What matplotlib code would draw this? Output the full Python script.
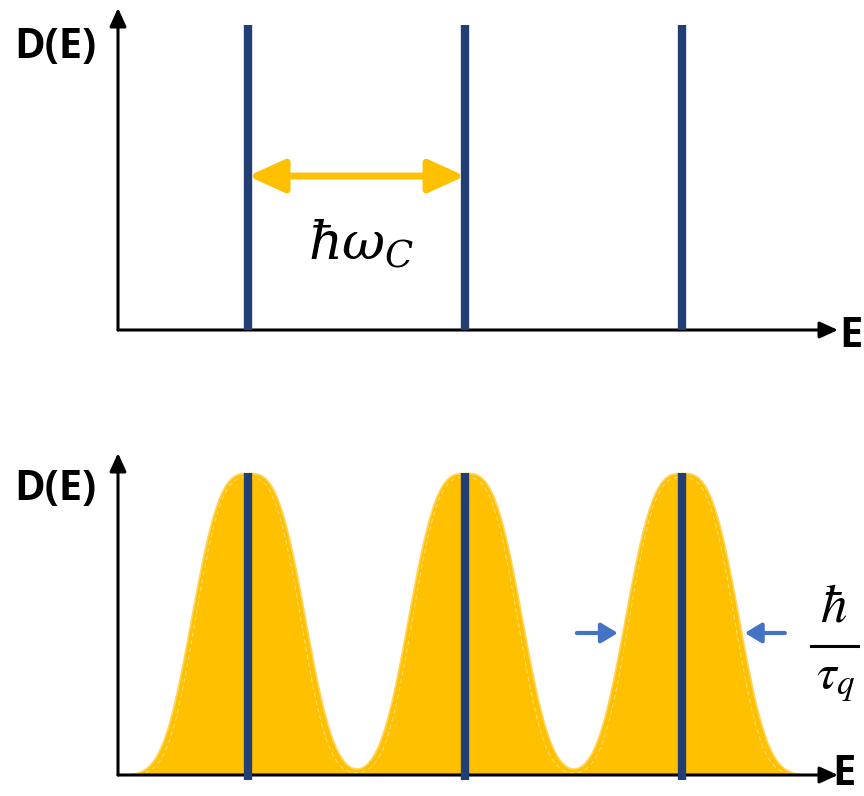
import numpy as np
import matplotlib.pyplot as plt
from matplotlib.lines import Line2D

# Landau levels (in units of hbar*omega_c) and the broadened line shape
levels = [1.0, 2.0, 3.0]
level_top = 0.947          # height of the sharp levels, upper panel
peak_height = 0.938        # height of the broadened peaks, lower panel
peak_halfwidth = 0.302     # broadening width, same units as E
peak_order = 3.0           # exponent of the line shape
fill_range = [0.456, 3.544]

spacing_y = 0.478          # height of the hbar*omega_c double arrow
width_y = 0.441            # height of the hbar/tau_q markers
width_left = [2.516, 2.705]
width_right = [3.475, 3.290]

E_MIN, E_MAX = 0.40, 3.72
NAVY = "#213f75"
GOLD = "#ffc000"
MARK_BLUE = "#4472c4"

plt.rcParams["mathtext.fontset"] = "stix"
LABEL_FONT = dict(family=["Open Sans", "DejaVu Sans"], weight="bold", size=30)

W, H = 864, 796
fig = plt.figure(figsize=(W / 100, H / 100), dpi=100)


def px(x, y):
    return x / W, 1 - y / H


def make_axes(y_top, y_bottom):
    ax = fig.add_axes([118 / W, 1 - y_bottom / H, (838 - 118) / W, (y_bottom - y_top) / H])
    ax.set_xlim(E_MIN, E_MAX)
    ax.set_ylim(0, 1)
    ax.axis("off")
    head = dict(arrowstyle="-|>,head_length=0.55,head_width=0.25", color="black",
                lw=2.2, shrinkA=0, shrinkB=0, mutation_scale=20)
    ax.annotate("", xy=(E_MAX, 0), xytext=(E_MIN, 0), arrowprops=head, annotation_clip=False)
    ax.annotate("", xy=(E_MIN, 1), xytext=(E_MIN, 0), arrowprops=head, annotation_clip=False)
    return ax


# upper panel: sharp levels
top = make_axes(8, 330)
top.vlines(levels, 0, level_top, color=NAVY, lw=6, capstyle="butt", zorder=3)
top.annotate("", xy=(levels[1], spacing_y), xytext=(levels[0], spacing_y),
             arrowprops=dict(arrowstyle="<|-|>,head_length=1.1,head_width=0.5", color=GOLD,
                             lw=5, shrinkA=0, shrinkB=0, mutation_scale=20), zorder=4)
fig.text(*px(361, 259), r"$\hbar\omega_C$", size=38, ha="center", va="baseline",
         math_fontfamily="dejavuserif")
fig.text(*px(55, 48), "D(E)", ha="center", va="center", **LABEL_FONT)
fig.text(*px(851, 347), "E", ha="center", va="baseline", **LABEL_FONT)

# lower panel: broadened levels
bot = make_axes(453, 775)
e = np.linspace(fill_range[0], fill_range[1], 1200)
dos = sum(peak_height * np.exp(-np.abs((e - c) / peak_halfwidth) ** peak_order) for c in levels)
bot.fill_between(e, 0, dos, color=GOLD, lw=1.2, edgecolor="#ffd45a", zorder=1)
inner = sum(0.985 * peak_height * np.exp(-np.abs((e - c) / (0.93 * peak_halfwidth)) ** peak_order)
            for c in levels)
bot.plot(e, inner, color="white", lw=0.8, ls=(0, (4, 3)), alpha=0.45, zorder=2)
bot.vlines(levels, -0.016, peak_height, color=NAVY, lw=6, capstyle="butt", zorder=3,
           clip_on=False)

marker = dict(arrowstyle="-|>,head_length=0.5,head_width=0.3", color=MARK_BLUE, lw=3,
              shrinkA=0, shrinkB=0, mutation_scale=20)
bot.annotate("", xy=(width_left[1], width_y), xytext=(width_left[0], width_y), arrowprops=marker)
bot.annotate("", xy=(width_right[1], width_y), xytext=(width_right[0], width_y), arrowprops=marker)

# hbar / tau_q written as a stacked fraction
fig.text(*px(834, 622), r"$\hbar$", size=38, ha="center", va="baseline")
fig.add_artist(Line2D([811 / W, 858 / W], [1 - 646 / H] * 2, color="black", lw=2.2))
fig.text(*px(836, 688), r"$\tau_q$", size=36, ha="center", va="baseline")

fig.text(*px(55, 490), "D(E)", ha="center", va="center", **LABEL_FONT)
fig.text(*px(844, 795), "E", ha="center", va="bottom", **LABEL_FONT)

fig.savefig("out.png", dpi=100)
